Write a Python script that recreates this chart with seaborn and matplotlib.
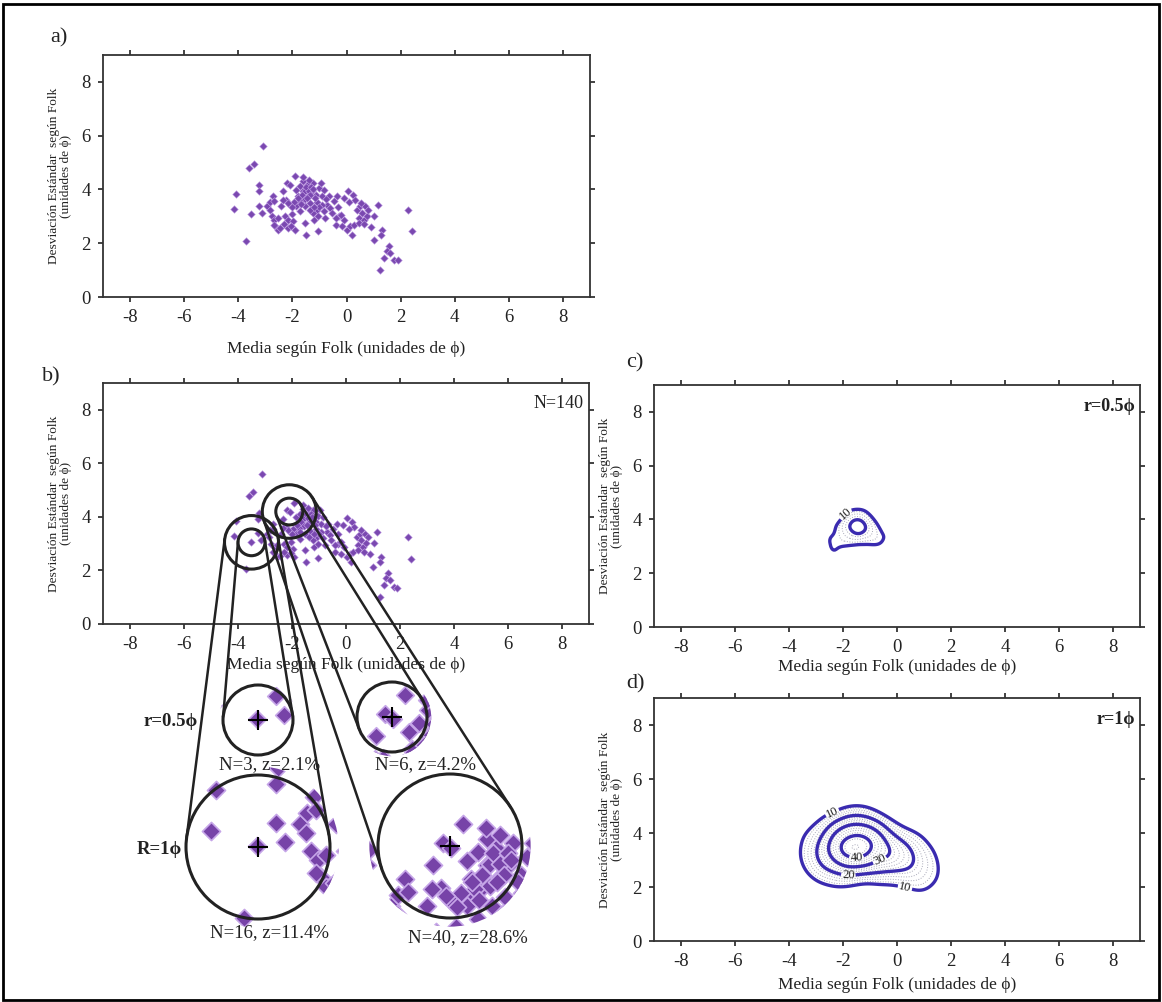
import numpy as np
import pandas as pd
import matplotlib
matplotlib.use("Agg")
import matplotlib.pyplot as plt
import seaborn as sns
from matplotlib.patches import Circle, Rectangle
from matplotlib.lines import Line2D

# ---------------- data ----------------
x_mean = [-3.10, -3.59, -3.43, -4.09, -4.15, -3.70, -3.22, -3.25, -3.52, -3.25,
          -3.13, -2.92, -2.82, -2.72, -2.69, -2.84, -2.76, -2.67, -2.63, -2.55,
          -2.69, -2.55, -2.42, -2.33, -2.20, -2.08, -1.92, -2.29, -2.17, -2.18,
          -2.02, -1.96, -1.92, -1.86, -1.81, -1.71, -1.65, -1.59, -1.52, -1.46,
          -1.44, -1.34, -1.28, -1.22, -1.12, -1.03, -0.95, -0.91, -0.85, -1.52,
          -1.49, -1.19, -1.09, -1.22, -0.79, -0.72, -0.66, -0.60, -0.54, -0.48,
          -0.35, -0.29, -0.39, -0.17, -0.08, 0.02, 0.14, 0.20, 0.26, 0.23,
          0.30, 0.39, 0.45, 0.51, 0.57, 0.63, 0.69, 0.75, 1.03, 1.15,
          1.00, 1.31, 1.27, 1.56, 1.49, 1.40, 1.62, 1.77, 1.89, 1.25,
          2.29, 2.42, -1.77, -1.71, -1.86, -2.08, -2.23, -1.59, -1.36, -0.91,
          -1.55, -1.50, -1.65, -1.40, -1.30, -1.35, -1.55, -1.75, -1.95, -2.15,
          -2.35, -1.80, -1.25, -1.60, -1.40, -2.00, -1.70, -1.45,
          -1.10, -1.00, -0.85, -1.20, -0.75, -1.05, -0.30, -0.20, 0.05, -1.15,
          -2.45, 0.90, 0.55, 0.80, 0.45, 0.65, -0.10, 0.10, -2.05, -2.30,
          -0.40, -1.05]
y_sd = [5.62, 4.79, 4.94, 3.84, 3.27, 2.07, 4.15, 3.93, 3.07, 3.39,
        3.12, 3.37, 3.52, 3.74, 3.56, 3.25, 3.00, 2.87, 2.63, 2.50,
        2.69, 2.94, 3.37, 3.93, 4.24, 4.17, 4.51, 3.00, 2.87, 2.56,
        3.07, 2.81, 2.50, 3.99, 3.74, 4.11, 3.62, 3.93, 3.37, 4.17,
        3.74, 3.49, 3.93, 4.24, 3.80, 4.05, 4.24, 3.74, 3.99, 2.75,
        2.32, 2.87, 3.25, 3.12, 2.94, 3.43, 3.74, 3.31, 3.12, 3.56,
        3.74, 3.00, 2.69, 2.63, 2.87, 2.50, 2.63, 2.32, 2.69, 3.80,
        3.62, 3.25, 2.94, 3.37, 3.12, 2.87, 3.37, 3.02, 3.02, 3.43,
        2.13, 2.50, 2.32, 1.91, 1.70, 1.45, 1.63, 1.39, 1.36, 0.99,
        3.25, 2.44, 3.49, 3.18, 3.37, 3.43, 3.62, 4.30, 3.25, 3.43,
        3.95, 4.10, 3.80, 3.95, 4.10, 3.80, 3.65, 3.60, 3.55, 3.50,
        3.60, 3.70, 4.00, 4.45, 4.35, 3.35, 3.45, 3.70,
        3.55, 3.35, 3.20, 3.35, 3.65, 3.00, 3.35, 3.05, 3.95, 3.70,
        2.55, 2.60, 3.50, 3.25, 2.75, 2.70, 3.70, 3.55, 2.65, 2.70,
        2.95, 2.45]

df = pd.DataFrame({"media": x_mean, "desv": y_sd})

x_ticks = [-8, -6, -4, -2, 0, 2, 4, 6, 8]
y_ticks = [0, 2, 4, 6, 8]
circle_centers = [(-3.5, 3.05), (-2.1, 4.2)]
circle_radii = [0.5, 1.0]
levels_c = [10, 18]
levels_d = [10, 20, 30, 40]
zoom_notes = ["N=3, z=2.1%", "N=6, z=4.2%", "N=16, z=11.4%", "N=40, z=28.6%"]

XLABEL = "Media según Folk (unidades de ϕ)"
YLABEL = "Desviación Estándar  según Folk\n(unidades de ϕ)"

# ---------------- style ----------------
sns.set_style("ticks")
plt.rcParams["font.family"] = ["Liberation Serif", "DejaVu Serif"]
plt.rcParams["axes.unicode_minus"] = False

PURPLE = "#7a48b0"
PURPLE_EDGE = "#c6a6e8"
BLUE = "#3a2bb0"
INK = "#222222"

W, H = 1162, 1002
fig = plt.figure(figsize=(W / 100, H / 100), dpi=100)
fig.patch.set_facecolor("white")


def px_axes(left, top, right, bottom):
    return fig.add_axes([left / W, 1 - bottom / H, (right - left) / W, (bottom - top) / H])


def style_axes(ax, xlab_y):
    ax.set_xlim(-9, 9)
    ax.set_ylim(0, 9)
    ax.set_xticks(x_ticks)
    ax.set_yticks(y_ticks)
    ax.tick_params(direction="out", length=3.8, width=1.2, top=True, right=True,
                   labeltop=False, labelright=False, labelsize=13.5, pad=5, colors=INK)
    for s in ax.spines.values():
        s.set_visible(True)
        s.set_linewidth(1.3)
        s.set_color("#333333")
    ax.set_xlabel(XLABEL, fontsize=12.5, color=INK, va="center")
    ax.xaxis.set_label_coords(0.5, xlab_y)
    ax.set_ylabel(YLABEL, fontsize=9.6, color=INK, va="center", linespacing=1.05)
    ax.yaxis.set_label_coords(-0.088, 0.5)


ax_a = px_axes(103, 55, 590, 297)
ax_b = px_axes(103, 383, 589, 624)
ax_c = px_axes(654, 385, 1140, 627)
ax_d = px_axes(654, 698, 1140, 941)

SMALL_S = 15
for ax in (ax_a, ax_b):
    sns.scatterplot(data=df, x="media", y="desv", marker="D", s=SMALL_S, color=PURPLE,
                    edgecolor=PURPLE_EDGE, linewidth=0.4, ax=ax, zorder=3)

style_axes(ax_a, -0.215)
style_axes(ax_b, -0.17)
style_axes(ax_c, -0.165)
style_axes(ax_d, -0.18)

# ---------------- coverage fields (percentage of points within radius r) ----------------
gx = np.linspace(-9, 9, 361)
gy = np.linspace(0, 9, 181)
GX, GY = np.meshgrid(gx, gy)
px = np.asarray(x_mean)
py = np.asarray(y_sd)


def coverage(r):
    # soft-edged counting circle of radius r
    d = np.sqrt((GX[..., None] - px) ** 2 + (GY[..., None] - py) ** 2)
    k = 1.0 / (1.0 + np.exp((d - r) / (0.18 * r)))
    return 100.0 * k.sum(axis=-1) / len(px)


Zc = coverage(0.5)
Zd = coverage(1.0)


def draw_contours(ax, Z, major, manual):
    top = Z.max()
    minor = [v for v in np.arange(10, top, 2.0) if v not in major]
    if minor:
        ax.contour(GX, GY, Z, levels=minor, colors="#a8a8b8", linewidths=0.7, linestyles=":")
    cs = ax.contour(GX, GY, Z, levels=[m for m in major if m < top], colors=BLUE, linewidths=2.4)
    ax.clabel(cs, levels=[m for m in cs.levels if m % 10 == 0], fmt="%d", fontsize=9,
              inline=True, inline_spacing=1, colors=INK, manual=manual)


draw_contours(ax_c, Zc, levels_c, [(-2.0, 4.3)])
draw_contours(ax_d, Zd, levels_d, [(-2.6, 5.2), (0.3, 2.0), (-1.8, 2.5), (-0.6, 2.9), (-1.5, 3.0)])

# corner notes
ax_b.text(0.988, 0.917, "N=140", transform=ax_b.transAxes, ha="right", va="center", fontsize=13, color=INK)
ax_c.text(0.99, 0.913, "r=0.5ϕ", transform=ax_c.transAxes, ha="right", va="center", fontsize=13,
          fontweight="bold", color=INK)
ax_d.text(0.99, 0.91, "r=1ϕ", transform=ax_d.transAxes, ha="right", va="center", fontsize=13,
          fontweight="bold", color=INK)

# panel letters
for lab, (xx, yy) in zip(["a)", "b)", "c)", "d)"], [(50, 38), (42, 377), (626, 363), (626, 684)]):
    fig.text(xx / W, 1 - yy / H, lab, fontsize=16, ha="left", va="center", color=INK)

# ---------------- counting circles in panel b ----------------
for cen in circle_centers:
    for r in circle_radii:
        ax_b.add_patch(Circle(cen, r, fill=False, lw=2.2, ec=INK, zorder=5))

# magnified views: (center index, radius, pixel centre x, y, pixel radius)
mag_views = [(0, 0.5, 258, 720, 35), (1, 0.5, 392, 717, 35),
             (0, 1.0, 258, 847, 72), (1, 1.0, 450, 846, 72)]

fig.canvas.draw()
kx = ax_b.transData.transform((1, 0))[0] - ax_b.transData.transform((0, 0))[0]

for ci, r, mx, my, R in mag_views:
    cx, cy = circle_centers[ci]
    h = R * 1.3
    axm = fig.add_axes([(mx - h) / W, 1 - (my + h) / H, 2 * h / W, 2 * h / H])
    axm.set_xlim(cx - 1.3 * r, cx + 1.3 * r)
    axm.set_ylim(cy - 1.3 * r, cy + 1.3 * r)
    axm.set_axis_off()
    axm.patch.set_alpha(0)
    mag = (R / r) / kx
    sc = axm.scatter(x_mean, y_sd, marker="D", s=SMALL_S * mag ** 2 * 0.8, color="#7743a8",
                     edgecolors=PURPLE_EDGE, linewidths=1.2, zorder=3)
    sc.set_clip_path(Circle((cx, cy), 1.12 * r, transform=axm.transData))
    axm.add_patch(Circle((cx, cy), r, fill=False, lw=2.2, ec=INK, zorder=5))
    axm.scatter([cx], [cy], marker="+", s=220, color="black", linewidths=1.5, zorder=6)

    # external tangent lines between the small circle and its magnified view
    c1 = np.array(ax_b.transData.transform((cx, cy)))
    r1 = r * kx
    c2 = np.array([mx, H - my], dtype=float)
    r2 = R
    d = c2 - c1
    dist = np.hypot(*d)
    u = d / dist
    perp = np.array([-u[1], u[0]])
    cos_t = (r1 - r2) / dist
    sin_t = np.sqrt(1 - cos_t ** 2)
    for sgn in (1, -1):
        n = u * cos_t + sgn * perp * sin_t
        p1 = c1 + r1 * n
        p2 = c2 + r2 * n
        fig.add_artist(Line2D([p1[0] / W, p2[0] / W], [p1[1] / H, p2[1] / H],
                              transform=fig.transFigure, color=INK, lw=1.8, zorder=4))

# labels of the magnified views
fig.text(198 / W, 1 - 721 / H, "r=0.5ϕ", ha="right", va="center", fontsize=13.5, fontweight="bold", color=INK)
fig.text(182 / W, 1 - 849 / H, "R=1ϕ", ha="right", va="center", fontsize=13.5, fontweight="bold", color=INK)
for note, (xx, yy) in zip(zoom_notes, [(270, 765), (426, 765), (270, 933), (468, 938)]):
    fig.text(xx / W, 1 - yy / H, note, ha="center", va="center", fontsize=13.5, color=INK)

# outer frame
fig.add_artist(Rectangle((0.003, 0.002), 0.994, 0.994, transform=fig.transFigure,
                         fill=False, lw=2, ec="black", zorder=10))

fig.savefig("out.png", dpi=100)
